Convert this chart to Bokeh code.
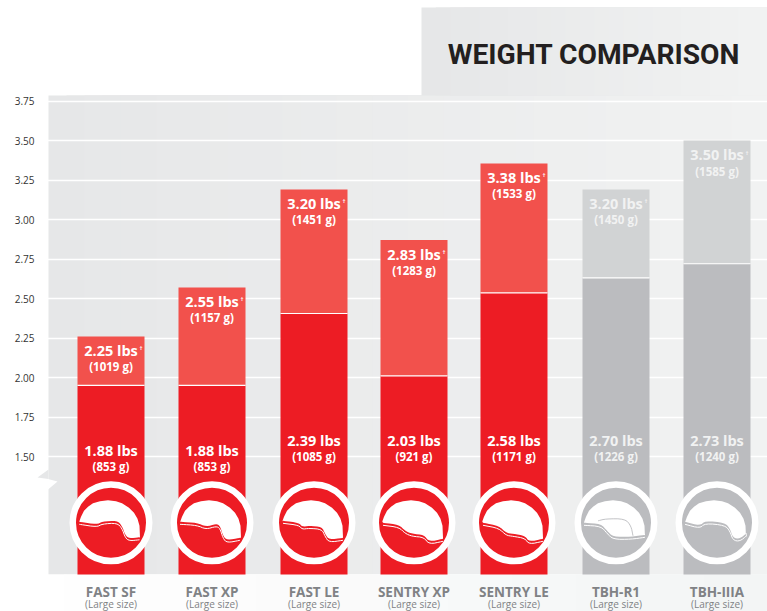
from bokeh.plotting import figure
from bokeh.models import ColumnDataSource, FixedTicker
from bokeh.core.properties import value
from bokeh.embed import file_html
from bokeh.resources import INLINE

# ---------- data ----------
names = ["FAST SF", "FAST XP", "FAST LE", "SENTRY XP", "SENTRY LE", "TBH-R1", "TBH-IIIA"]
sub_label = "(Large size)"
slots = [0, 1, 2.01, 3, 3.99, 5, 6]
lower_values = [1.95, 1.95, 2.405, 2.01, 2.535, 2.63, 2.72]
total_values = [2.26, 2.57, 3.19, 2.87, 3.355, 3.19, 3.50]
lower_lbs = ["1.88 lbs", "1.88 lbs", "2.39 lbs", "2.03 lbs", "2.58 lbs", "2.70 lbs", "2.73 lbs"]
lower_g = ["(853 g)", "(853 g)", "(1085 g)", "(921 g)", "(1171 g)", "(1226 g)", "(1240 g)"]
total_lbs = ["2.25 lbs", "2.55 lbs", "3.20 lbs", "2.83 lbs", "3.38 lbs", "3.20 lbs", "3.50 lbs"]
total_g = ["(1019 g)", "(1157 g)", "(1451 g)", "(1283 g)", "(1533 g)", "(1450 g)", "(1585 g)"]
y_ticks = [1.5, 1.75, 2.0, 2.25, 2.5, 2.75, 3.0, 3.25, 3.5, 3.75]
title_text = "WEIGHT COMPARISON"

# ---------- layout helpers (picture pixels to data) ----------
PX_PER_SLOT = 101.0
PX_PER_LB = 158.0
def X(px): return (px - 110.5) / PX_PER_SLOT
def Y(py): return 3.75 - (py - 100.5) / PX_PER_LB

RED, RED_L = "#ed1c24", "#f2514c"
GRAY, GRAY_L = "#bbbcbf", "#d1d3d4"
low_colors = [RED] * 5 + [GRAY] * 2
top_colors = [RED_L] * 5 + [GRAY_L] * 2
top_text = ["#ffffff"] * 5 + ["#f1f2f2"] * 2
low_label_py = [450, 450, 440, 440, 440, 440, 440]

p = figure(width=767, height=611, output_backend="svg", toolbar_location=None,
           x_range=(X(0), X(767)), y_range=(Y(611), Y(0)),
           min_border_left=0, min_border_right=0, min_border_top=0, min_border_bottom=0)
p.outline_line_color = None
p.background_fill_color = "#ffffff"
p.border_fill_color = "#ffffff"

def lerp_hex(t, a=(0xe6, 0xe7, 0xe8), b=(0xf1, 0xf2, 0xf2)):
    return "#%02x%02x%02x" % tuple(round(x + (y - x) * t) for x, y in zip(a, b))

def smooth(pts, rounds=2):
    for _ in range(rounds):
        out = [pts[0]]
        for a, b in zip(pts, pts[1:]):
            out.append((0.75 * a[0] + 0.25 * b[0], 0.75 * a[1] + 0.25 * b[1]))
            out.append((0.25 * a[0] + 0.75 * b[0], 0.25 * a[1] + 0.75 * b[1]))
        out.append(pts[-1])
        pts = out
    return pts

# background gradients (each strip runs to the right edge so no seams show)
for i in range(40):
    x0 = 48 + i * (767 - 48) / 40
    p.quad(left=X(x0), right=X(767), top=Y(95), bottom=Y(574), level="image",
           fill_color=lerp_hex(i / 39), line_color=None)
for i in range(24):
    x0 = 421 + i * (767 - 421) / 24
    p.quad(left=X(x0), right=X(767), top=Y(7), bottom=Y(95), level="image",
           fill_color=lerp_hex(i / 23), line_color=None)
for i in range(12):
    x0 = i * 767 / 12
    p.quad(left=X(x0), right=X(767), top=Y(574), bottom=Y(611), level="image",
           fill_color=lerp_hex(i / 11, (0xff, 0xff, 0xff), (0xf3, 0xf5, 0xf5)), line_color=None)

# notch on the left edge
p.patch([X(48), X(37), X(48)], [Y(469), Y(477), Y(478.6)], fill_color="#e6e7e8", line_color=None)
p.patch([X(47.5), X(57), X(47.5)], [Y(478.6), Y(481), Y(489)], fill_color="#ffffff", line_color=None)

# bars
src = ColumnDataSource(dict(x=slots, low=lower_values, tot=total_values, lc=low_colors, tc=top_colors,
                            txt=top_text, ll=lower_lbs, lg=lower_g, tl=total_lbs, tg=total_g,
                            base=[Y(574)] * 7, low_y=[Y(v) for v in low_label_py],
                            low_y2=[Y(v + 16) for v in low_label_py],
                            dag=["\u2020"] * 7, left=[s - 33.5 / PX_PER_SLOT for s in slots],
                            right=[s + 33.5 / PX_PER_SLOT for s in slots], ring=[Y(522.3)] * 7,
                            sub=[sub_label] * 7, sub_y=[Y(603.5)] * 7))
p.vbar(x="x", width=67 / PX_PER_SLOT, bottom="base", top="low", fill_color="lc", line_color=None, source=src)
p.vbar(x="x", width=67 / PX_PER_SLOT, bottom="low", top="tot", fill_color="tc", line_color=None, source=src)
p.segment(x0="left", x1="right", y0="low", y1="low", line_color="#ffffff", line_width=1.2, source=src)

# labels
F = value("Open Sans")
kw = dict(source=src, text_align="center", text_baseline="middle", text_font=F, x="x")
p.text(y="tot", text="tl", y_offset=14, text_color="txt", text_font_size="14.5px", text_font_style="bold", **kw)
p.text(y="tot", text="tg", y_offset=30.5, text_color="txt", text_font_size="11.5px", text_font_style="bold", **kw)
p.text(y="tot", text="dag", x_offset=30, y_offset=12, text_color="txt", text_font_size="6px", text_font_style="bold", **kw)
p.text(y="low_y", text="ll", text_color="txt", text_font_size="14.5px", text_font_style="bold", **kw)
p.text(y="low_y2", text="lg", text_color="txt", text_font_size="11.5px", text_font_style="bold", **kw)
p.text(y="sub_y", text="sub", text_color="#808285", text_font_size="10px", **kw)

# rings
p.scatter(x="x", y="ring", size=76.5, marker="circle", fill_color="lc", line_color="#ffffff", line_width=6.5, source=src)

# helmet icons: outline pieces in pixels relative to the ring centre
dome = [(-31.7, -1.3), (-30, -6), (-27, -12), (-23, -16), (-18, -19.5), (-11, -21.5), (-3, -22.5), (5, -21.5),
        (11, -19.5), (18, -15), (23, -10), (26.5, -4), (28.5, 3), (29, 15)]
shapes = [
    [(28.5, 14.5), (18.3, 15.5), (14.3, 12.5), (11, 3), (6, -2.3), (-9, -1.3), (-14, 1.7), (-31.7, -1)],
    [(28, 15), (15, 17.5), (11, 13), (8, 3), (4, 1), (-6, 4), (-15, 0), (-32, -1)],
    [(29, 15), (15, 17), (11, 11), (8, 4), (-5, 3), (-12, 4), (-15, 0), (-31, -2)],
    [(29, 16), (15, 19), (10, 12), (-2, 11), (-9, 8), (-15, 2), (-31, 0)],
    [(29, 16), (15, 19), (11, 13), (-1, 11), (-8, 10), (-15, 3), (-31, 0)],
    [(29, 12), (15, 14), (-3, 14), (-9, 8), (-15, 1), (-32, 0)],
    [(30, 10), (23, 16), (16, 15), (13, 6), (8, 0), (-12, -2), (-17, 3), (-32, -1)],
]
cy = Y(522.3)
for s, lower in zip(slots, shapes):
    lower = smooth(lower)
    outline = dome + lower
    p.patch([s + q[0] / PX_PER_SLOT for q in outline], [cy - q[1] / PX_PER_LB for q in outline],
            fill_color="#ffffff", line_color=None)
    p.line([s + q[0] / PX_PER_SLOT for q in lower], [cy - (q[1] + 2.5) / PX_PER_LB for q in lower],
           line_color="#ffffff", line_width=1.0)

# inner seam of the TBH-R1 icon
seam = smooth([(-18, -2), (-10, -4), (9, -4), (15, 3), (17, 13)])
p.line([slots[5] + q[0] / PX_PER_SLOT for q in seam], [cy - q[1] / PX_PER_LB for q in seam],
       line_color=GRAY, line_width=0.9)

# title
p.text(x=[X(593.5)], y=[Y(53.5)], text=[title_text], text_align="center", text_baseline="middle",
       text_font=value("Roboto"), text_font_style="bold", text_font_size="28.2px", text_color="#231f20")

# axes and grid, fixed inside the frame so that the frame fills the picture
ya = p.yaxis[0]
ya.fixed_location = X(48)
ya.ticker = FixedTicker(ticks=y_ticks)
ya.major_label_overrides = {t: f"{t:.2f}" for t in y_ticks}
ya.axis_line_color = None
ya.major_tick_line_color = None
ya.minor_tick_line_color = None
ya.major_tick_out = 0
ya.major_label_standoff = 14
ya.major_label_text_font = "Open Sans"
ya.major_label_text_font_size = "10px"
ya.major_label_text_color = "#333333"

xa = p.xaxis[0]
xa.fixed_location = Y(574)
xa.ticker = FixedTicker(ticks=slots)
xa.major_label_overrides = dict(zip(slots, names))
xa.axis_line_color = None
xa.major_tick_line_color = None
xa.minor_tick_line_color = None
xa.major_tick_out = 0
xa.major_tick_in = 0
xa.major_label_standoff = 8
xa.major_label_text_font = "Open Sans"
xa.major_label_text_font_style = "bold"
xa.major_label_text_font_size = "13.5px"
xa.major_label_text_color = "#808285"

p.xgrid.visible = False
yg = p.ygrid[0]
yg.ticker = FixedTicker(ticks=y_ticks)
yg.grid_line_color = "#ffffff"
yg.grid_line_width = 1.4

open("out.html", "w").write(file_html(p, INLINE))
